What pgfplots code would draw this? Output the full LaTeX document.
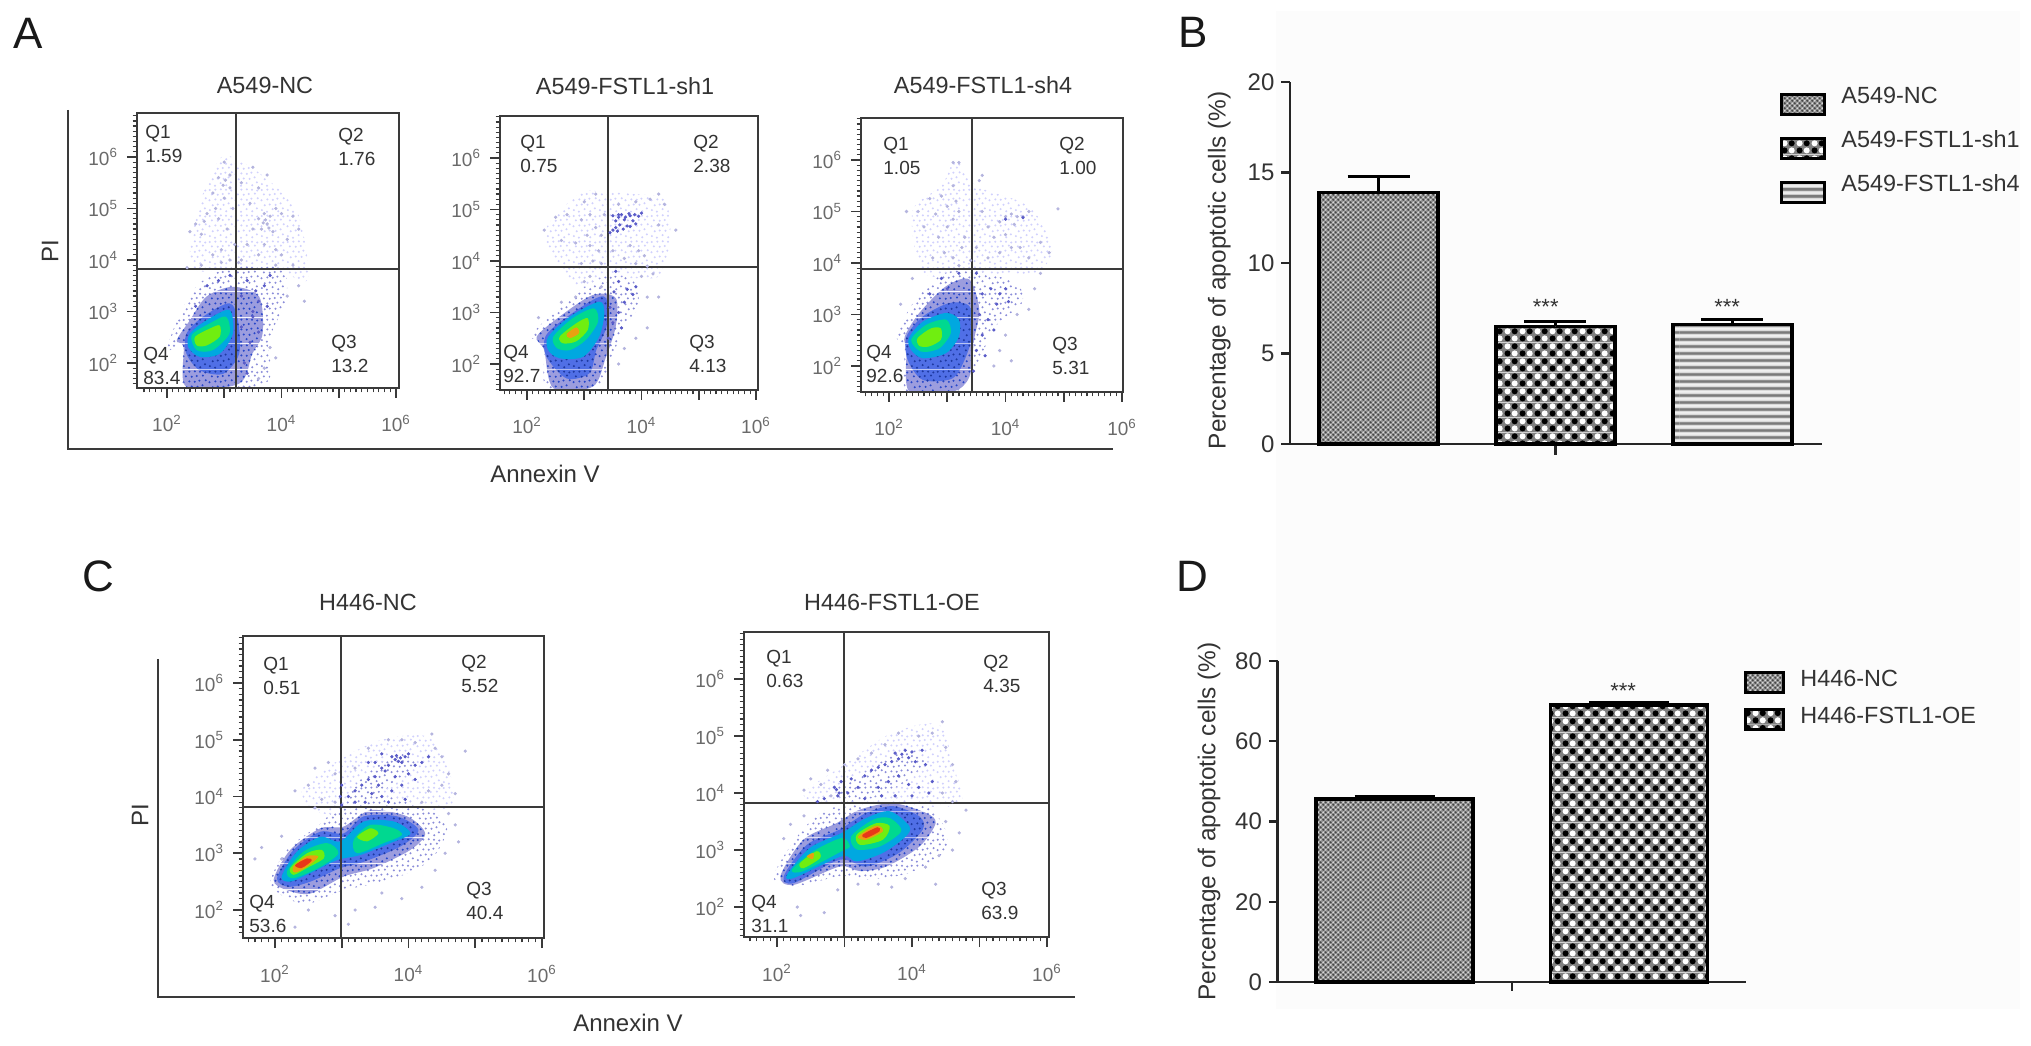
\documentclass[border=0pt]{standalone}
\usepackage{fontspec}
\setmainfont{Liberation Sans}
\usepackage{pgfplots}
\pgfplotsset{compat=1.18}
\usetikzlibrary{patterns}

\definecolor{txt}{HTML}{333333}
\definecolor{ticktxt}{HTML}{6A6A6A}
\definecolor{boxc}{HTML}{3A3A3A}
\definecolor{dotl}{HTML}{B4B4DE}
\definecolor{dotd}{HTML}{5A5CC8}
\definecolor{lv3}{HTML}{2A4FE0}
\definecolor{lv4}{HTML}{00A8E0}
\definecolor{lv5}{HTML}{00D890}
\definecolor{lv6}{HTML}{70EE10}
\definecolor{lv7}{HTML}{E8A010}
\definecolor{lv8}{HTML}{E83818}

% bar fills
\pgfdeclarepatterninherentlycolored{halftone}{\pgfqpoint{0pt}{0pt}}{\pgfqpoint{2.7pt}{2.7pt}}{\pgfqpoint{2.7pt}{2.7pt}}{
  \pgfsetfillcolor{black!42}\pgfpathrectangle{\pgfqpoint{0pt}{0pt}}{\pgfqpoint{2.7pt}{2.7pt}}\pgfusepath{fill}
  \pgfsetfillcolor{black!72}\pgfpathcircle{\pgfqpoint{.675pt}{.675pt}}{.62pt}\pgfpathcircle{\pgfqpoint{2.025pt}{2.025pt}}{.62pt}\pgfusepath{fill}
  \pgfsetfillcolor{black!12}\pgfpathcircle{\pgfqpoint{.675pt}{2.025pt}}{.5pt}\pgfpathcircle{\pgfqpoint{2.025pt}{.675pt}}{.5pt}\pgfusepath{fill}
}
\pgfdeclarepatterninherentlycolored{checkdots}{\pgfqpoint{0pt}{0pt}}{\pgfqpoint{7.3pt}{7.3pt}}{\pgfqpoint{7.3pt}{7.3pt}}{
  \pgfsetfillcolor{black!50}\pgfpathrectangle{\pgfqpoint{0pt}{0pt}}{\pgfqpoint{7.3pt}{7.3pt}}\pgfusepath{fill}
  \pgfsetfillcolor{black}\pgfpathcircle{\pgfqpoint{1.825pt}{1.825pt}}{1.55pt}\pgfpathcircle{\pgfqpoint{5.475pt}{5.475pt}}{1.55pt}\pgfusepath{fill}
  \pgfsetfillcolor{white}\pgfpathcircle{\pgfqpoint{5.475pt}{1.825pt}}{1.55pt}\pgfpathcircle{\pgfqpoint{1.825pt}{5.475pt}}{1.55pt}\pgfusepath{fill}
}
\pgfdeclarepatterninherentlycolored{hstripes}{\pgfqpoint{0pt}{0pt}}{\pgfqpoint{120pt}{3.65pt}}{\pgfqpoint{120pt}{3.65pt}}{
  \pgfsetfillcolor{black!8}\pgfpathrectangle{\pgfqpoint{0pt}{0pt}}{\pgfqpoint{120pt}{3.65pt}}\pgfusepath{fill}
  \pgfsetfillcolor{black!28}\pgfpathrectangle{\pgfqpoint{0pt}{.3pt}}{\pgfqpoint{120pt}{2.1pt}}\pgfusepath{fill}
  \pgfsetfillcolor{black!52}\pgfpathrectangle{\pgfqpoint{0pt}{.7pt}}{\pgfqpoint{120pt}{1.3pt}}\pgfusepath{fill}
}
% grainy fills for the thin parts of the cell clouds
\newcommand\sd[2]{\pgfpathcircle{\pgfqpoint{#1pt}{#2pt}}{.58pt}}
\newcommand\stipdots{\sd{1}{1.5}\sd{3.6}{.7}\sd{6.5}{2}\sd{9.4}{.9}\sd{11.8}{2.4}\sd{2.4}{4}\sd{5}{4.4}\sd{8}{4.2}\sd{10.6}{5}\sd{.8}{6.6}\sd{3.8}{7}\sd{6.6}{6.8}\sd{9}{7.4}\sd{12.2}{7.6}\sd{2}{9.6}\sd{5}{9.4}\sd{7.6}{9.8}\sd{10.8}{10}\sd{.9}{11.9}\sd{3.8}{12}\sd{6.6}{12.2}\sd{9.3}{12}\sd{12}{11.6}}
\pgfdeclarepatterninherentlycolored{stipz}{\pgfqpoint{0pt}{0pt}}{\pgfqpoint{13pt}{13pt}}{\pgfqpoint{13pt}{13pt}}{
  \pgfsetfillcolor{white}\pgfpathrectangle{\pgfqpoint{0pt}{0pt}}{\pgfqpoint{13pt}{13pt}}\pgfusepath{fill}
  \pgfsetfillcolor{black!5!blue!18}\stipdots\pgfusepath{fill}}
\pgfdeclarepatterninherentlycolored{stipa}{\pgfqpoint{0pt}{0pt}}{\pgfqpoint{13pt}{13pt}}{\pgfqpoint{13pt}{13pt}}{
  \pgfsetfillcolor{white}\pgfpathrectangle{\pgfqpoint{0pt}{0pt}}{\pgfqpoint{13pt}{13pt}}\pgfusepath{fill}
  \pgfsetfillcolor{dotd!70}\stipdots\pgfusepath{fill}}
\pgfdeclarepatterninherentlycolored{stipb}{\pgfqpoint{0pt}{0pt}}{\pgfqpoint{13pt}{13pt}}{\pgfqpoint{13pt}{13pt}}{
  \pgfsetfillcolor{dotd!60}\pgfpathrectangle{\pgfqpoint{0pt}{0pt}}{\pgfqpoint{13pt}{13pt}}\pgfusepath{fill}
  \pgfsetfillcolor{lv3!90!black}\stipdots\pgfusepath{fill}}
\pgfdeclarepatterninherentlycolored{stipc}{\pgfqpoint{0pt}{0pt}}{\pgfqpoint{13pt}{13pt}}{\pgfqpoint{13pt}{13pt}}{
  \pgfsetfillcolor{lv3!82!white}\pgfpathrectangle{\pgfqpoint{0pt}{0pt}}{\pgfqpoint{13pt}{13pt}}\pgfusepath{fill}
  \pgfsetfillcolor{lv3!72!black}\stipdots\pgfusepath{fill}}
\tikzset{
  lv0/.style={pattern=stipz}, lv1/.style={pattern=stipa}, lv2/.style={pattern=stipb},
  lv3/.style={pattern=stipc}, lv4/.style={fill=lv4}, lv5/.style={fill=lv5},
  lv6/.style={fill=lv6}, lv7/.style={fill=lv7}, lv8/.style={fill=lv8},
}

\pgfplotsset{
  flow/.style={
    scale only axis, axis on top, anchor=south west,
    xtick={2,3,4,5,6}, ytick={2,3,4,5,6},
    xticklabels={10\textsuperscript{2},,10\textsuperscript{4},,10\textsuperscript{6}},
    yticklabels={10\textsuperscript{2},10\textsuperscript{3},10\textsuperscript{4},10\textsuperscript{5},10\textsuperscript{6}},
    minor xtick={1.6,1.7,...,6.1}, minor ytick={1.5,1.6,...,6.9},
    tick pos=left, tick align=outside,
    major tick length=5pt, minor tick length=2.2pt,
    tick style={draw=boxc, line width=.9pt},
    minor tick style={draw=boxc, line width=.6pt},
    axis line style={draw=boxc, line width=1.1pt},
    tick label style={font=\fontsize{9.5}{9.5}\selectfont, text=ticktxt},
    xticklabel style={yshift=-5pt},
    yticklabel style={xshift=-1pt},
  },
  barax/.style={
    scale only axis, anchor=south west, axis lines=left, axis line style={-, line width=1.3pt, draw=black!85},
    tick align=outside, tick style={draw=black!85, line width=1.1pt},
    xticklabels={}, clip=false, ymin=0,
    /pgf/number format/assume math mode=true,
    tick label style={font=\fontsize{12}{12}\selectfont, text=txt},
    every axis y label/.style={rotate=90, anchor=center, font=\fontsize{12.2}{12.2}\selectfont, text=txt},
    legend cell align=left,
  },
  onebar/.style n args={4}{
    ybar, bar shift=0pt, draw=black, line width=1.7pt, bar width=#2,
    legend image code/.code={\draw[##1, line width=1.5pt] (0pt,#3) rectangle (#4,#3+10pt);
      \path[draw=none, fill=none] (0pt,0pt) rectangle (#4+6.5pt,0pt);},
    error bars/y dir=plus, error bars/y explicit,
    error bars/error bar style={line width=1.3pt, draw=black},
    error bars/error mark options={line width=1.6pt, draw=black, rotate=90, mark size=#1},
  },
}
\newcommand\lv[2]{\addplot[draw=none, #1, smooth cycle] coordinates {#2};}
\newcommand\dotsl[1]{\addplot[only marks, mark=*, mark size=.6pt, color=dotl] coordinates {#1};}
\newcommand\dotsd[1]{\addplot[only marks, mark=*, mark size=.6pt, color=dotd] coordinates {#1};}
\newcommand\gate[5]{%
  \addplot[draw=boxc, line width=1.1pt] coordinates {(#1,#3) (#1,#4)};
  \addplot[draw=boxc, line width=1.1pt] coordinates {(#2,#5) (6.1,#5)};}

\tikzset{
  ttl/.style={font=\fontsize{11.7}{11.7}\selectfont, text=txt, inner sep=0pt},
  ql/.style={font=\fontsize{9.5}{11.7}\selectfont, text=txt, anchor=north west, align=left, inner sep=0pt},
  pan/.style={font=\fontsize{22}{22}\selectfont, text=black!90, inner sep=0pt},
}

\begin{document}
\begin{tikzpicture}
\path (0,0) rectangle (1015.5pt,522.5pt);
\fill[black!1] (638pt,18pt) rectangle (1010pt,517pt);

% A, NC
\begin{axis}[flow, at={(68.5pt,328.5pt)}, width=131pt, height=137.5pt,
  xmin=1.476, xmax=6.052, ymin=1.515, ymax=6.854]
\lv{lv0}{(2.4,4.2)(2.6,5.2)(2.95,6.0)(3.3,5.9)(3.6,5.7)(4.2,5.1)(4.4,4.4)(4.45,3.6)(3.9,3.8)(3.0,3.8)(2.5,3.8)}
\lv{lv1}{(2.00,2.25)(2.23,2.96)(2.57,3.55)(3.15,3.87)(4.01,3.81)(4.07,3.22)(3.78,2.44)(3.72,1.60)(2.34,1.5)(2.28,2.34)}
\lv{lv2}{(2.17,2.44)(2.40,2.83)(2.69,3.29)(3.15,3.48)(3.61,3.29)(3.67,2.57)(3.49,2.18)(3.26,1.60)(2.34,1.53)(2.29,2.31)}
\lv{lv3}{(2.34,2.57)(2.63,2.90)(3.09,3.16)(3.24,2.83)(3.26,2.18)(2.98,1.79)(2.57,1.86)(2.34,2.18)}
\lv{lv4}{(2.40,2.57)(2.69,2.83)(3.09,3.03)(3.15,2.57)(2.92,2.18)(2.57,2.12)(2.37,2.31)}
\lv{lv5}{(2.43,2.54)(2.75,2.77)(3.03,2.90)(3.09,2.57)(2.80,2.25)(2.52,2.25)}
\lv{lv6}{(2.49,2.51)(2.75,2.67)(2.92,2.73)(2.92,2.51)(2.69,2.34)(2.52,2.34)}
\dotsl{(2.6,4.5)(2.7,4.9)(2.8,5.3)(2.9,5.6)(3.0,5.9)(3.1,5.4)(3.15,5.0)(3.05,4.6)(2.95,4.2)(3.1,4.0)(2.8,4.1)(2.65,4.75)(2.5,4.7)(2.4,4.55)(2.85,5.0)(2.9,4.8)(3.0,5.2)(3.1,5.65)(3.18,4.3)(3.3,4.0)(3.4,4.3)(3.5,4.6)(3.6,4.8)(3.7,4.9)(3.75,4.7)(3.65,4.6)(3.8,4.85)(3.85,4.55)(3.9,5.0)(4.0,4.9)(4.2,4.85)(4.3,4.6)(4.1,4.4)(4.0,4.1)(3.9,4.2)(3.7,4.3)(3.6,4.1)(3.45,5.1)(3.6,5.4)(3.75,5.65)(3.3,5.5)(3.5,5.8)(3.9,3.9)(4.2,3.9)(4.3,3.5)(4.1,3.3)(4.4,3.2)(3.8,2.3)(3.9,2.1)(3.7,1.9)(3.6,1.7)(2.95,3.95)(3.25,3.95)(2.6,3.9)(2.35,3.85)(3.72,4.78)(3.68,4.72)(3.78,4.62)(2.98,5.45)(3.02,5.55)}
\dotsd{(3.5,3.0)(3.55,3.4)(3.7,3.5)(3.75,3.1)(3.6,2.6)(3.45,2.4)(3.35,2.0)(3.4,1.8)(3.5,2.9)(3.3,3.3)(3.8,3.7)(3.4,3.6)(3.6,3.2)(3.3,2.7)(2.7,3.5)(2.5,3.1)(2.9,3.6)(3.1,3.7)}
\gate{3.205}{1.476}{1.515}{6.854}{3.825}
\end{axis}

% A, sh1
\begin{axis}[flow, at={(250pt,327.5pt)}, width=129pt, height=137pt,
  xmin=1.528, xmax=6.035, ymin=1.495, ymax=6.816]
\lv{lv0}{(2.3,4.5)(2.9,5.3)(3.3,5.35)(3.9,5.3)(4.4,5.2)(4.5,4.5)(4.3,3.7)(3.4,3.7)(2.9,3.5)}
\lv{lv1}{(2.06,2.53)(2.46,2.99)(3.03,3.51)(3.38,3.70)(3.84,3.64)(3.95,3.12)(3.67,2.66)(3.32,1.62)(3.15,1.49)(2.34,1.49)(2.30,2.40)}
\lv{lv2}{(2.17,2.53)(2.57,2.92)(3.15,3.34)(3.55,3.28)(3.55,2.73)(3.38,2.14)(3.15,1.56)(2.46,1.53)(2.30,2.27)}
\lv{lv3}{(2.32,2.53)(2.63,2.86)(3.21,3.28)(3.39,3.25)(3.39,2.73)(3.21,2.27)(3.09,1.82)(2.69,1.72)(2.34,2.14)}
\lv{lv4}{(2.37,2.53)(2.75,2.92)(3.26,3.21)(3.35,2.99)(3.26,2.53)(2.98,2.14)(2.57,2.11)(2.37,2.27)}
\lv{lv5}{(2.46,2.53)(2.80,2.89)(3.17,3.08)(3.24,2.82)(3.03,2.47)(2.75,2.27)(2.52,2.31)}
\lv{lv6}{(2.57,2.53)(2.86,2.79)(3.06,2.89)(3.06,2.66)(2.86,2.44)(2.63,2.40)}
\lv{lv7}{(2.69,2.58)(2.86,2.71)(2.91,2.60)(2.75,2.50)}
\dotsl{(3.0,5.15)(3.1,4.9)(2.95,4.8)(3.05,4.5)(3.2,4.65)(3.1,4.3)(3.25,4.2)(3.3,4.5)(3.15,4.0)(2.95,3.95)(3.3,3.95)(3.35,4.9)(3.2,5.3)(2.7,4.9)(2.5,4.85)(2.3,4.6)(2.6,4.4)(2.85,4.35)(3.0,3.6)(2.85,3.3)(3.1,3.7)(3.3,3.5)(3.8,4.3)(3.95,4.2)(4.05,4.1)(4.1,3.9)(4.2,3.75)(3.9,3.95)(3.7,4.05)(3.5,4.2)(4.3,4.7)(4.4,5.1)(3.9,5.15)(4.15,5.2)(4.0,3.7)(4.1,3.3)(4.3,3.3)(4.1,2.7)(4.6,4.6)(3.7,2.3)(3.6,2.0)(3.9,2.5)(2.6,3.2)(2.2,2.9)(4.3,5.3)(3.6,5.1)}
\dotsd{(3.5,4.88)(3.6,4.85)(3.65,4.9)(3.72,4.85)(3.8,4.88)(3.88,4.9)(3.95,4.87)(4.0,4.93)(3.55,4.78)(3.7,4.8)(3.85,4.78)(3.5,4.6)(3.55,4.65)(3.62,4.7)(3.68,4.62)(3.75,4.68)(3.8,4.67)(3.58,4.58)(3.45,4.55)(3.9,4.72)(3.6,4.9)(3.78,4.92)(3.52,3.4)(3.6,3.6)(3.75,3.45)(3.85,3.35)(3.7,3.2)(3.6,3.0)(3.5,2.8)(3.45,3.1)(3.65,2.7)(3.42,2.5)(3.9,3.5)(3.55,3.8)}
\gate{3.415}{1.528}{1.495}{6.816}{3.883}
\end{axis}

% A, sh4
\begin{axis}[flow, at={(430.5pt,326.5pt)}, width=131pt, height=137pt,
  xmin=1.519, xmax=6.017, ymin=1.495, ymax=6.816]
\lv{lv0}{(2.4,5.0)(2.9,5.5)(3.15,6.0)(3.5,5.5)(4.4,5.1)(4.8,4.3)(4.5,3.8)(3.5,3.8)(2.6,3.8)}
\lv{lv1}{(2.13,2.57)(2.41,3.22)(2.86,3.74)(3.38,3.87)(4.17,3.61)(4.28,3.22)(3.83,2.77)(3.49,1.99)(3.15,1.5)(2.30,1.5)(2.27,2.38)}
\lv{lv2}{(2.27,2.57)(2.52,3.03)(2.98,3.55)(3.38,3.68)(3.55,3.09)(3.46,2.51)(3.38,1.79)(3.09,1.5)(2.35,1.5)(2.30,2.31)}
\lv{lv3}{(2.30,2.57)(2.58,2.96)(3.03,3.22)(3.38,3.16)(3.43,2.64)(3.32,2.18)(3.09,1.76)(2.58,1.73)(2.32,2.12)}
\lv{lv4}{(2.34,2.54)(2.58,2.86)(2.98,3.03)(3.20,2.90)(3.20,2.57)(2.98,2.25)(2.58,2.15)(2.38,2.31)}
\lv{lv5}{(2.38,2.51)(2.64,2.80)(2.98,2.90)(3.06,2.64)(2.86,2.34)(2.55,2.28)}
\lv{lv6}{(2.49,2.54)(2.72,2.73)(2.89,2.73)(2.89,2.51)(2.69,2.38)(2.52,2.39)}
\dotsl{(2.5,5.0)(2.6,4.7)(2.7,5.25)(2.8,4.95)(2.9,5.3)(3.0,5.1)(3.1,5.5)(3.15,5.2)(3.2,5.0)(3.0,4.7)(2.85,4.5)(2.95,4.2)(3.1,4.1)(3.25,4.3)(3.3,4.5)(3.2,3.95)(2.75,4.1)(3.1,4.85)(2.3,5.0)(3.2,5.95)(3.1,5.95)(3.55,5.6)(3.6,5.7)(3.6,5.0)(3.7,4.7)(3.8,4.5)(3.9,4.8)(4.0,4.9)(4.1,4.95)(4.2,4.9)(4.3,4.9)(4.4,5.0)(4.15,4.75)(4.0,4.55)(4.1,4.3)(4.25,4.3)(4.4,4.1)(3.9,4.2)(3.7,4.1)(3.5,4.3)(4.6,4.4)(4.75,4.2)(4.9,5.05)(4.6,3.8)(4.5,3.5)(4.4,3.1)(4.2,3.0)(4.0,2.6)(3.9,2.3)(4.1,2.1)(3.8,2.0)(2.2,3.2)(2.4,3.7)(3.4,4.05)}
\dotsd{(3.6,3.4)(3.75,3.5)(3.85,3.2)(3.9,3.4)(4.0,3.5)(4.05,3.25)(3.7,2.9)(3.6,2.6)(3.55,3.0)(3.5,2.3)(3.65,2.2)(3.5,3.8)(3.2,3.8)(2.9,3.7)(2.7,3.4)(3.0,3.5)(3.45,1.9)(4.0,4.85)(4.3,4.88)(3.8,2.7)}
\gate{3.425}{1.519}{1.495}{6.816}{3.883}
\end{axis}

% B
\begin{axis}[barax, at={(645pt,300.5pt)}, width=266pt, height=181pt,
  xmin=-0.5, xmax=2.506, ymax=20, xtick={1}, ytick={0,5,10,15,20},
  major x tick style={/pgfplots/major tick length=5.5pt},
  ylabel={Percentage of apoptotic cells (\%)},
  ylabel style={at={(axis description cs:-0.133,0.48)}},
  legend style={at={(0.921,0.997)}, anchor=north west, draw=none, fill=none,
    inner sep=0pt, outer sep=0pt, row sep=5.2pt, font=\fontsize{11.7}{11.7}\selectfont,
    text=txt, legend columns=1},
]
\addplot[onebar={15.5pt}{59.5pt}{-9pt}{21.5pt}, pattern=halftone] coordinates {(0,13.9) +- (0,0.9)};
\addlegendentry{A549-NC}
\addplot[onebar={15.5pt}{59.5pt}{-9pt}{21.5pt}, pattern=checkdots] coordinates {(1,6.5) +- (0,0.25)};
\addlegendentry{A549-FSTL1-sh1}
\addplot[onebar={15.5pt}{59.5pt}{-9pt}{21.5pt}, pattern=hstripes] coordinates {(2,6.6) +- (0,0.3)};
\addlegendentry{A549-FSTL1-sh4}
\node[font=\fontsize{11}{11}\selectfont, text=txt] at (axis cs:0.945,7.6) {***};
\node[font=\fontsize{11}{11}\selectfont, text=txt] at (axis cs:1.97,7.6) {***};
\end{axis}

% C, NC
\begin{axis}[flow, at={(121.5pt,53.5pt)}, width=150.5pt, height=151pt,
  xmin=1.521, xmax=6.03, ymin=1.507, ymax=6.828]
\lv{lv0}{(2.4,4.1)(2.9,4.6)(3.6,5.0)(4.3,5.05)(4.6,4.5)(4.6,3.8)(3.5,3.8)(2.7,3.7)}
\lv{lv1}{(3.05,3.85)(3.2,4.2)(3.6,4.6)(3.9,4.78)(4.1,4.6)(3.9,4.3)(3.6,4.1)(3.3,3.85)}
\lv{lv1}{(1.93,2.47)(2.18,3.06)(2.63,3.47)(2.93,3.76)(3.58,4.0)(4.23,3.82)(4.58,3.47)(4.33,2.88)(3.73,2.53)(3.03,2.35)(2.53,2.12)(2.23,2.18)}
\lv{lv2}{(1.98,2.53)(2.23,3.06)(2.68,3.44)(3.03,3.47)(3.43,3.76)(3.98,3.65)(4.25,3.35)(4.03,3.06)(3.48,2.74)(3.03,2.59)(2.53,2.29)(2.18,2.35)}
\lv{lv3}{(2.03,2.56)(2.28,3.06)(2.68,3.38)(3.03,3.35)(3.33,3.65)(3.83,3.65)(4.15,3.41)(3.88,3.12)(3.33,2.85)(2.98,2.74)(2.53,2.50)(2.20,2.41)}
\lv{lv4}{(2.10,2.59)(2.33,3.03)(2.68,3.29)(2.98,3.21)(3.33,3.56)(3.78,3.56)(4.03,3.35)(3.73,3.18)(3.28,2.97)(2.93,2.88)(2.53,2.65)(2.23,2.50)}
\lv{lv5}{(2.18,2.68)(2.43,3.03)(2.78,3.18)(2.95,3.0)(2.68,2.76)(2.28,2.56)}
\lv{lv5}{(3.18,3.24)(3.43,3.50)(3.78,3.44)(3.90,3.32)(3.63,3.18)(3.23,3.0)}
\lv{lv6}{(2.23,2.74)(2.48,3.0)(2.70,3.06)(2.73,2.91)(2.48,2.74)(2.28,2.62)}
\lv{lv6}{(3.23,3.29)(3.43,3.44)(3.55,3.35)(3.38,3.21)}
\lv{lv7}{(2.27,2.76)(2.48,2.95)(2.65,2.94)(2.48,2.76)(2.30,2.66)}
\lv{lv8}{(2.30,2.79)(2.48,2.91)(2.55,2.87)(2.40,2.74)}
\dotsl{(2.3,4.1)(2.5,4.2)(2.6,4.5)(2.8,4.6)(2.9,4.4)(2.7,3.95)(2.6,3.8)(2.9,3.9)(3.2,4.5)(3.4,4.85)(3.7,5.0)(3.9,5.0)(4.1,4.95)(4.35,5.1)(4.4,4.85)(4.5,4.7)(4.6,4.4)(4.5,4.2)(4.7,4.05)(4.3,4.1)(4.2,3.9)(4.6,3.7)(4.7,3.5)(4.75,3.2)(4.55,3.0)(4.4,2.7)(4.2,2.4)(3.9,2.2)(3.6,2.3)(3.5,2.05)(3.2,2.0)(2.9,1.9)(2.5,2.0)(2.3,1.7)(2.1,2.9)(1.8,3.1)(1.7,2.9)(2.1,3.3)(4.85,4.8)(3.1,1.75)}
\dotsd{(3.1,4.0)(3.2,4.1)(3.3,4.2)(3.4,4.3)(3.5,4.35)(3.6,4.5)(3.7,4.55)(3.8,4.65)(3.85,4.62)(3.9,4.6)(3.75,4.7)(3.82,4.72)(3.88,4.68)(3.95,4.7)(3.65,4.45)(3.55,4.2)(3.45,4.05)(3.6,4.0)(3.75,4.1)(3.9,4.2)(3.8,4.35)(4.0,4.4)(4.1,4.55)(4.2,4.6)(4.0,4.75)(3.6,4.75)(3.4,4.6)(3.2,3.9)(3.0,3.85)(3.0,4.2)(3.35,3.9)(3.7,3.9)(3.95,3.95)(4.1,4.3)(4.3,4.7)(3.5,4.6)(2.98,4.0)}
\gate{2.989}{1.521}{1.507}{6.828}{3.815}
\end{axis}

% C, OE
\begin{axis}[flow, at={(372pt,54pt)}, width=152.5pt, height=152.5pt,
  xmin=1.511, xmax=6.03, ymin=1.474, ymax=6.825]
\lv{lv0}{(2.4,4.0)(3.0,4.5)(3.7,5.05)(4.4,5.2)(4.6,4.5)(4.7,3.8)(3.5,3.8)(2.7,3.8)}
\lv{lv1}{(3.0,3.85)(2.9,4.1)(3.2,4.3)(3.7,4.65)(4.0,4.75)(4.2,4.55)(3.9,4.2)(3.5,3.95)}
\lv{lv1}{(1.95,2.54)(2.34,3.30)(2.74,3.71)(3.32,3.82)(4.11,3.82)(4.45,3.47)(4.50,3.0)(3.96,2.60)(3.32,2.48)(2.93,2.54)(2.25,2.36)}
\lv{lv2}{(2.05,2.54)(2.39,3.18)(2.88,3.47)(3.23,3.71)(3.72,3.82)(4.21,3.65)(4.35,3.47)(4.11,3.06)(3.62,2.71)(3.23,2.63)(2.93,2.71)(2.25,2.39)}
\lv{lv3}{(2.10,2.54)(2.44,3.09)(2.93,3.36)(3.32,3.65)(3.72,3.77)(4.11,3.59)(4.16,3.36)(3.81,2.95)(3.32,2.71)(2.93,2.83)(2.25,2.42)}
\lv{lv4}{(2.15,2.57)(2.49,3.04)(2.96,3.30)(3.32,3.56)(3.67,3.68)(3.96,3.42)(3.91,3.24)(3.57,2.95)(3.18,2.80)(2.96,2.89)(2.25,2.51)}
\lv{lv5}{(2.22,2.65)(2.54,2.98)(2.96,3.21)(3.08,3.06)(2.96,2.98)(2.39,2.63)}
\lv{lv5}{(3.10,3.24)(3.42,3.53)(3.67,3.56)(3.84,3.33)(3.52,3.06)(3.18,3.01)}
\lv{lv6}{(2.34,2.77)(2.59,2.98)(2.64,2.86)(2.39,2.68)}
\lv{lv6}{(3.18,3.27)(3.47,3.47)(3.67,3.42)(3.57,3.18)(3.23,3.09)}
\lv{lv7}{(3.20,3.24)(3.47,3.43)(3.57,3.33)(3.32,3.18)}
\lv{lv7}{(2.44,2.89)(2.54,2.95)(2.53,2.84)}
\lv{lv8}{(3.27,3.27)(3.49,3.40)(3.52,3.33)(3.32,3.21)}
\dotsl{(2.4,4.05)(2.5,4.25)(2.65,4.15)(2.75,4.4)(2.8,3.95)(3.0,4.5)(3.2,4.6)(3.4,4.7)(3.6,4.85)(3.8,5.05)(4.1,5.0)(4.3,5.05)(4.45,5.25)(4.5,4.8)(4.6,4.5)(4.65,4.2)(4.45,4.0)(4.6,3.85)(4.8,3.7)(4.5,3.5)(4.7,3.3)(4.6,3.0)(4.4,2.9)(4.2,2.7)(4.35,2.4)(3.9,2.5)(3.7,2.35)(3.5,2.4)(3.2,2.4)(2.3,2.0)(2.35,1.85)(2.7,1.9)(2.1,3.2)(2.2,3.45)(2.4,3.6)(2.9,2.3)}
\dotsd{(2.88,4.06)(2.85,4.1)(2.92,4.0)(2.95,4.2)(2.9,3.95)(3.05,4.0)(3.1,4.25)(3.2,4.1)(3.3,4.3)(3.4,4.4)(3.5,4.45)(3.6,4.5)(3.7,4.55)(3.8,4.6)(3.85,4.68)(3.9,4.75)(3.95,4.62)(4.0,4.72)(3.75,4.7)(4.05,4.55)(4.15,4.75)(4.2,4.5)(3.5,4.1)(3.65,4.2)(3.8,4.3)(3.95,4.15)(4.1,4.1)(3.3,3.9)(3.55,3.95)(3.75,3.95)(4.0,3.95)(2.7,3.9)(2.6,3.85)(4.3,4.2)(4.25,4.0)}
\gate{2.993}{1.511}{1.474}{6.825}{3.825}
\end{axis}

% D
\begin{axis}[barax, at={(638.75pt,31.5pt)}, width=234.25pt, height=160.5pt,
  xmin=-0.499, xmax=1.499, ymax=80, xtick={0.5}, ytick={0,20,40,60,80},
  ylabel={Percentage of apoptotic cells (\%)},
  ylabel style={at={(axis description cs:-0.146,0.5)}},
  legend style={at={(0.9957,0.985)}, anchor=north west, draw=none, fill=none,
    inner sep=0pt, outer sep=0pt, row sep=4.5pt, font=\fontsize{11.7}{11.7}\selectfont,
    text=txt, legend columns=1},
]
\addplot[onebar={20pt}{78.5pt}{-6.5pt}{19pt}, pattern=halftone] coordinates {(0,45.6) +- (0,0.7)};
\addlegendentry{H446-NC}
\addplot[onebar={20pt}{78.5pt}{-6.5pt}{19pt}, pattern=checkdots] coordinates {(1,69) +- (0,0.7)};
\addlegendentry{H446-FSTL1-OE}
\node[font=\fontsize{11}{11}\selectfont, text=txt] at (axis cs:0.975,72.6) {***};
\end{axis}

\begin{scope}[x=0.5pt, y=-0.5pt, shift={(0pt,522.5pt)}]
% outer L frames
\draw[draw=boxc, line width=.9pt] (68,110) -- (68,449) -- (1113,449);
\draw[draw=boxc, line width=.9pt] (158,659) -- (158,997) -- (1075,997);
% panel letters
\node[pan] at (28,33) {A};
\node[pan] at (1193,32) {B};
\node[pan] at (98,576) {C};
\node[pan] at (1192,576) {D};
% titles
\node[ttl] at (265,85) {A549-NC};
\node[ttl] at (625,86) {A549-FSTL1-sh1};
\node[ttl] at (983,85) {A549-FSTL1-sh4};
\node[ttl] at (368,602) {H446-NC};
\node[ttl] at (892,602) {H446-FSTL1-OE};
% axis names
\node[ttl, font=\fontsize{12}{12}\selectfont] at (545,474) {Annexin V};
\node[ttl, font=\fontsize{12}{12}\selectfont] at (628,1023) {Annexin V};
\node[ttl, font=\fontsize{12}{12}\selectfont, rotate=90] at (50,251) {PI};
\node[ttl, font=\fontsize{12}{12}\selectfont, rotate=90] at (140,815) {PI};
% quadrant labels
\node[ql] at (145,125) {Q1\\1.59};
\node[ql] at (338,128) {Q2\\1.76};
\node[ql] at (331,335) {Q3\\13.2};
\node[ql] at (143,347) {Q4\\83.4};
\node[ql] at (520,135) {Q1\\0.75};
\node[ql] at (693,135) {Q2\\2.38};
\node[ql] at (689,335) {Q3\\4.13};
\node[ql] at (503,345) {Q4\\92.7};
\node[ql] at (883,137) {Q1\\1.05};
\node[ql] at (1059,137) {Q2\\1.00};
\node[ql] at (1052,337) {Q3\\5.31};
\node[ql] at (866,345) {Q4\\92.6};
\node[ql] at (263,657) {Q1\\0.51};
\node[ql] at (461,655) {Q2\\5.52};
\node[ql] at (466,882) {Q3\\40.4};
\node[ql] at (249,895) {Q4\\53.6};
\node[ql] at (766,650) {Q1\\0.63};
\node[ql] at (983,655) {Q2\\4.35};
\node[ql] at (981,882) {Q3\\63.9};
\node[ql] at (751,895) {Q4\\31.1};
\end{scope}
\end{tikzpicture}
\end{document}
